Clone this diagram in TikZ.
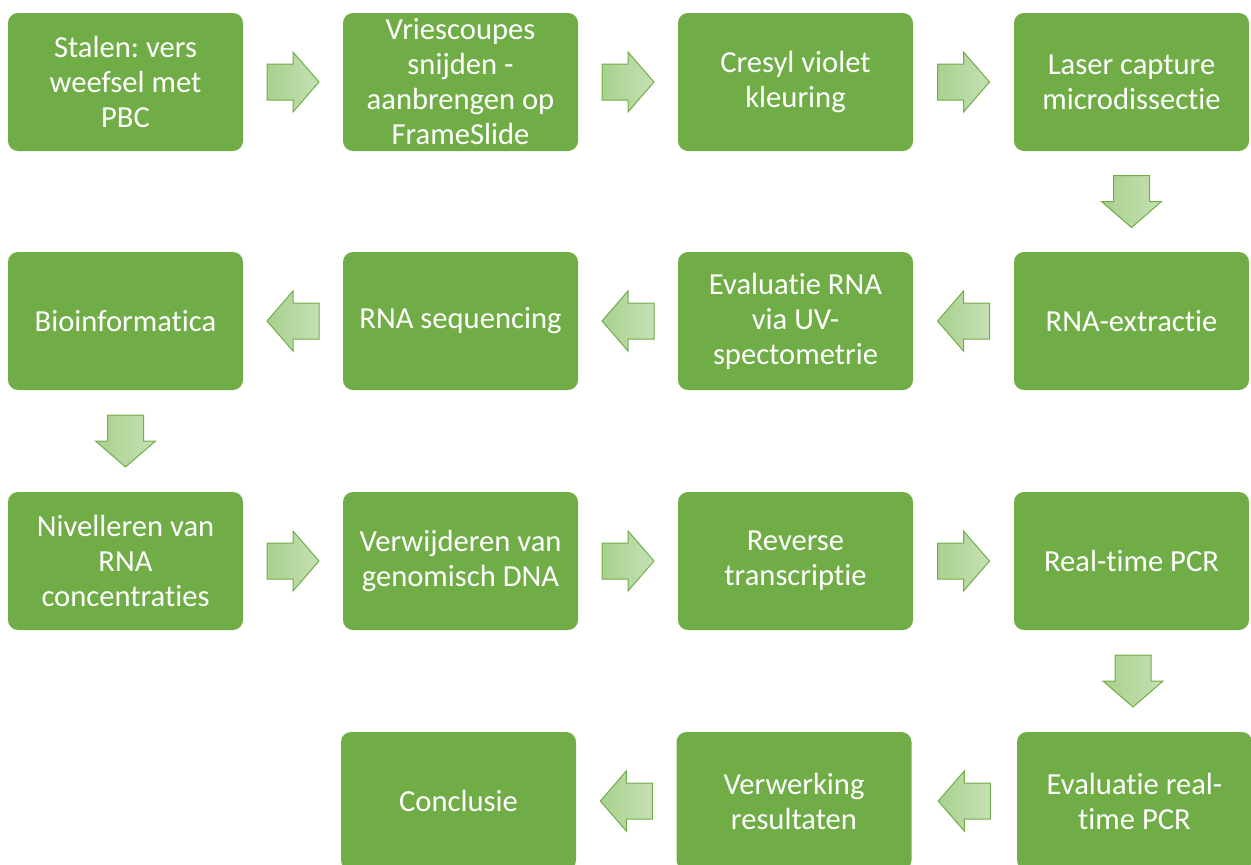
\documentclass[tikz,border=0pt]{standalone}
\usepackage{fontspec}
\setmainfont{Carlito}[Ligatures=NoCommon]
\frenchspacing
\usetikzlibrary{calc}

\definecolor{boxgreen}{HTML}{70AD47}
\definecolor{arrowdark}{HTML}{A9D18E}
\definecolor{arrowlight}{HTML}{C5E0B4}

\tikzset{
    stepbox/.style={fill=boxgreen, rounded corners=5pt, minimum width=117.5pt,
        minimum height=69pt, align=center, text=white, inner sep=0pt,
        font=\fontsize{15.3}{17.5}\selectfont},
    pics/steparrow/.style={code={
        \draw[boxgreen, line width=0.5pt, left color=arrowdark, right color=arrowlight]
            (-13pt,-9pt) -- (0pt,-9pt) -- (0pt,-15pt) -- (13pt,0pt) -- (0pt,15pt)
            -- (0pt,9pt) -- (-13pt,9pt) -- cycle;
    }}
}

\begin{document}
\begin{tikzpicture}[x=0.5pt, y=-0.5pt]
    \useasboundingbox (0,0) rectangle (1251,864);
    \clip (0,0) rectangle (1251,864);

    % Row 1
    \node[stepbox] (stalen) at (125.5,82) {Stalen: vers\\weefsel met\\PBC};
    \node[stepbox] (coupes) at (460.5,82) {Vriescoupes\\snijden -\\aanbrengen op\\FrameSlide};
    \node[stepbox] (cresyl) at (795.5,82) {Cresyl violet\\kleuring};
    \node[stepbox] (laser) at (1131.5,82) {Laser capture\\microdissectie};

    % Row 2
    \node[stepbox] (extractie) at (1131.5,321) {RNA-extractie};
    \node[stepbox] (evalrna) at (795.5,321) {Evaluatie RNA\\via UV-\\spectometrie};
    \node[stepbox] (seq) at (460.5,321) {RNA sequencing};
    \node[stepbox] (bioinf) at (125.5,321) {Bioinformatica};

    % Row 3
    \node[stepbox] (nivel) at (125.5,561) {Nivelleren van\\RNA\\concentraties};
    \node[stepbox] (gdna) at (460.5,561) {Verwijderen van\\genomisch DNA};
    \node[stepbox] (rt) at (795.5,561) {Reverse\\transcriptie};
    \node[stepbox] (pcr) at (1131.5,561) {Real-time PCR};

    % Row 4
    \node[stepbox] (evalpcr) at (1134.5,801) {Evaluatie real-\\time PCR};
    \node[stepbox] (verwerking) at (794,801) {Verwerking\\resultaten};
    \node[stepbox] (conclusie) at (458.5,801) {Conclusie};

    % Arrows between the steps
    \pic at ($(stalen.east)!0.5!(coupes.west)$) {steparrow};
    \pic at ($(coupes.east)!0.5!(cresyl.west)$) {steparrow};
    \pic at ($(cresyl.east)!0.5!(laser.west)$) {steparrow};
    \pic[rotate=-90] at ($(laser.south)!0.5!(extractie.north)$) {steparrow};
    \pic[rotate=180] at ($(extractie.west)!0.5!(evalrna.east)$) {steparrow};
    \pic[rotate=180] at ($(evalrna.west)!0.5!(seq.east)$) {steparrow};
    \pic[rotate=180] at ($(seq.west)!0.5!(bioinf.east)$) {steparrow};
    \pic[rotate=-90] at ($(bioinf.south)!0.5!(nivel.north)$) {steparrow};
    \pic at ($(nivel.east)!0.5!(gdna.west)$) {steparrow};
    \pic at ($(gdna.east)!0.5!(rt.west)$) {steparrow};
    \pic at ($(rt.east)!0.5!(pcr.west)$) {steparrow};
    \pic[rotate=-90] at ($(pcr.south)!0.5!(evalpcr.north)$) {steparrow};
    \pic[rotate=180] at ($(evalpcr.west)!0.5!(verwerking.east)$) {steparrow};
    \pic[rotate=180] at ($(verwerking.west)!0.5!(conclusie.east)$) {steparrow};
\end{tikzpicture}
\end{document}
